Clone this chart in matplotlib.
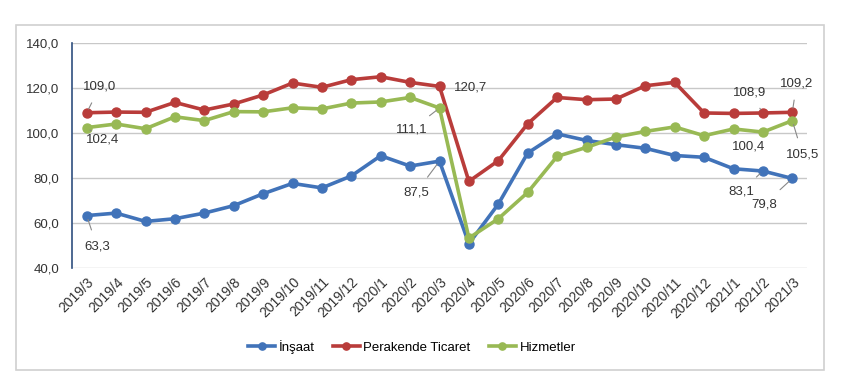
import numpy as np
import matplotlib.pyplot as plt
from matplotlib.patches import Rectangle
from matplotlib.ticker import FuncFormatter

plt.rcParams['font.family'] = ['Liberation Sans', 'DejaVu Sans']

months = ['2019/3', '2019/4', '2019/5', '2019/6', '2019/7', '2019/8', '2019/9',
          '2019/10', '2019/11', '2019/12', '2020/1', '2020/2', '2020/3', '2020/4',
          '2020/5', '2020/6', '2020/7', '2020/8', '2020/9', '2020/10', '2020/11',
          '2020/12', '2021/1', '2021/2', '2021/3']

insaat = [63.3, 64.4, 60.7, 61.9, 64.4, 67.7, 73.0, 77.6, 75.6, 80.9, 89.9, 85.3, 87.5,
          50.8, 68.4, 91.1, 99.6, 96.7, 94.8, 93.2, 90.0, 89.2, 84.1, 83.1, 79.8]
perakende = [109.0, 109.3, 109.2, 113.6, 110.2, 112.9, 116.9, 122.2, 120.3, 123.7, 125.0,
             122.5, 120.7, 78.5, 87.7, 104.1, 115.8, 114.8, 115.1, 121.0, 122.5, 108.9,
             108.7, 108.9, 109.2]
hizmetler = [102.4, 104.0, 101.9, 107.2, 105.5, 109.5, 109.4, 111.2, 110.7, 113.3, 113.8,
             115.8, 111.1, 53.3, 61.9, 73.6, 89.6, 93.6, 98.2, 100.7, 102.7, 98.8, 101.8,
             100.4, 105.5]

blue = '#4173B9'
red = '#B93C3A'
green = '#98B954'

fig = plt.figure(figsize=(8.5, 3.79), dpi=100)
fig.patches.append(Rectangle((16 / 850, 1 - 370 / 379), 808 / 850, 345 / 379,
                             transform=fig.transFigure, fill=False,
                             edgecolor='#D0D0D0', linewidth=1.2))

ax = fig.add_axes([72 / 850, 1 - 268 / 379, 735 / 850, 225 / 379])
x = np.arange(len(months))

for y, c, name in [(insaat, blue, 'İnşaat'), (perakende, red, 'Perakende Ticaret'),
                   (hizmetler, green, 'Hizmetler')]:
    ax.plot(x, y, color=c, lw=2.6, marker='o', ms=6.5, mfc=c, mec=c, label=name, zorder=3)

ax.set_xlim(-0.5, 24.5)
ax.set_ylim(40, 140)
ax.set_yticks(np.arange(40, 141, 20))
ax.yaxis.set_major_formatter(FuncFormatter(lambda v, p: f'{v:.1f}'.replace('.', ',')))
ax.set_xticks(x)
ax.set_xticklabels(months, rotation=45, ha='right', rotation_mode='anchor', fontsize=10)
ax.tick_params(axis='y', labelsize=9.5, length=0, pad=9, colors='#333333')
ax.tick_params(axis='x', length=0, pad=5, colors='#333333')
ax.grid(axis='y', color='#C8C8C8', lw=1)
for s in ['top', 'right', 'bottom']:
    ax.spines[s].set_visible(False)
ax.spines['left'].set_color('#2F4F7F')
ax.spines['left'].set_linewidth(1.2)

# data labels with leader lines
labels = [
    (0, perakende, (0.45, 120.6), True),
    (0, hizmetler, (0.55, 97.0), True),
    (0, insaat, (0.35, 49.5), True),
    (12, hizmetler, (11.05, 101.5), True),
    (12, insaat, (11.2, 73.5), True),
    (12, perakende, (13.05, 120.3), False),
    (23, perakende, (22.55, 118.0), True),
    (24, perakende, (24.15, 122.2), True),
    (23, hizmetler, (22.5, 94.0), False),
    (24, hizmetler, (24.35, 90.4), True),
    (23, insaat, (22.25, 74.0), True),
    (24, insaat, (23.05, 68.4), True),
]
for i, series, pos, line in labels:
    v = series[i]
    arrow = dict(arrowstyle='-', color='#888888', lw=0.8, shrinkA=6, shrinkB=3) if line else None
    ax.annotate(f'{v:.1f}'.replace('.', ','), xy=(i, v), xytext=pos,
                ha='center', va='center', fontsize=9.5, color='#333333',
                arrowprops=arrow, zorder=4)

fig.legend(*ax.get_legend_handles_labels(), loc='center', bbox_to_anchor=(412 / 850, 1 - 347 / 379),
           ncol=3, frameon=False, handlelength=2.0, columnspacing=1.4, markerscale=0.8,
           handletextpad=0.3, fontsize=9.5)

fig.savefig('out.png', dpi=100)
